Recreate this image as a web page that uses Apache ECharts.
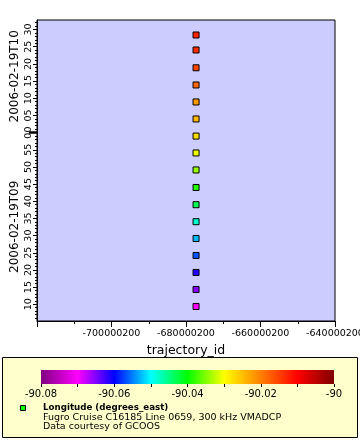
<!DOCTYPE html>
<html><head><meta charset="utf-8">
<script src="https://cdn.jsdelivr.net/npm/echarts@6/dist/echarts.min.js"></script>
<style>html,body{margin:0;padding:0;background:#fff}#c{width:360px;height:440px}</style>
</head><body><div id="c"></div>
<script>
// ---- data ----
const trajectoryId = -677300200;
const times = [
  '2006-02-19T09:09:22Z','2006-02-19T09:14:19Z','2006-02-19T09:19:16Z','2006-02-19T09:24:13Z',
  '2006-02-19T09:29:10Z','2006-02-19T09:34:03Z','2006-02-19T09:39:00Z','2006-02-19T09:44:01Z',
  '2006-02-19T09:49:07Z','2006-02-19T09:54:04Z','2006-02-19T09:58:59Z','2006-02-19T10:03:58Z',
  '2006-02-19T10:08:55Z','2006-02-19T10:13:52Z','2006-02-19T10:18:52Z','2006-02-19T10:24:03Z',
  '2006-02-19T10:28:25Z'
];
const longitudes = [
  -90.0700, -90.0653, -90.0613, -90.0567, -90.0527, -90.0480, -90.0433, -90.0387,
  -90.0340, -90.0307, -90.0273, -90.0246, -90.0220, -90.0180, -90.0153, -90.0132, -90.0128
];
const xRange = [-720000200, -640000200];
const xStep = 20000000;
const timeRange = ['2006-02-19T09:05:08Z', '2006-02-19T10:32:47Z'];
const colorRange = [-90.08, -90];
const colorStep = 0.01;
const palette = ['#800080','#ff00ff','#0000ff','#00ffff','#00ff00','#ffff00','#ff8000','#ff0000','#800000'];
const xName = 'trajectory_id';
const legendTitle = 'Longitude (degrees_east)';
const legendLines = ['Fugro Cruise C16185 Line 0659, 300 kHz VMADCP', 'Data courtesy of GCOOS'];

// ---- derived ----
const FONT = '"DejaVu Sans", sans-serif';
const yMin = Date.parse(timeRange[0]), yMax = Date.parse(timeRange[1]);
const MIN = 60000, FIVE = 5 * MIN, HOUR = 60 * MIN;
const fiveMin = [], oneMin = [], hourBounds = [];
for (let t = Math.ceil(yMin / FIVE) * FIVE; t <= yMax; t += FIVE) fiveMin.push(t);
for (let t = Math.ceil(yMin / MIN) * MIN; t <= yMax; t += MIN) oneMin.push(t);
for (let t = Math.ceil(yMin / HOUR) * HOUR; t <= yMax; t += HOUR) hourBounds.push(t);
const segEdges = [yMin].concat(hourBounds, [yMax]);
const segCenters = [];
for (let i = 0; i < segEdges.length - 1; i++) segCenters.push((segEdges[i] + segEdges[i + 1]) / 2);
const pad2 = n => (n < 10 ? '0' : '') + n;

const chart = echarts.init(document.getElementById('c'), null, {renderer: 'canvas'});
chart.setOption({
  animation: false,
  backgroundColor: '#ffffff',
  textStyle: {fontFamily: FONT},
  grid: [
    {left: 37, top: 20, width: 298, height: 301, show: true, backgroundColor: '#ccccff',
     borderColor: '#000', borderWidth: 1, containLabel: false, outerBoundsMode: 'none'},
    {left: 41, top: 370, width: 293, height: 14, show: false, containLabel: false, outerBoundsMode: 'none'}
  ],
  xAxis: [
    {type: 'value', gridIndex: 0, min: xRange[0], max: xRange[1], interval: xStep,
     name: xName, nameLocation: 'middle', nameGap: 20,
     nameTextStyle: {fontSize: 12.5, color: '#000', fontFamily: FONT},
     axisLine: {show: true, lineStyle: {color: '#000', width: 1}},
     axisTick: {show: true, length: 6, lineStyle: {color: '#000'}},
     minorTick: {show: true, splitNumber: 2, length: 3, lineStyle: {color: '#000'}},
     axisLabel: {showMinLabel: false, margin: 8, fontSize: 9.5, color: '#000', fontFamily: FONT,
                 formatter: v => String(Math.round(v))},
     splitLine: {show: false}, minorSplitLine: {show: false}},
    {type: 'value', gridIndex: 1, min: colorRange[0], max: colorRange[1], interval: colorStep,
     axisLine: {show: false},
     axisTick: {show: true, length: 3, lineStyle: {color: '#000'}},
     axisLabel: {margin: 5, fontSize: 10, color: '#000', fontFamily: FONT,
                 formatter: v => (Math.round(v * 100) % 2 === 0 ? String(+v.toFixed(2)) : '')},
     splitLine: {show: false}}
  ],
  yAxis: [
    {type: 'value', gridIndex: 0, min: yMin, max: yMax, position: 'left',
     axisLine: {show: true, lineStyle: {color: '#000', width: 1}},
     axisTick: {show: true, customValues: fiveMin, length: 4, lineStyle: {color: '#000'}},
     axisLabel: {customValues: fiveMin, rotate: 90, margin: 3, fontSize: 9.5, color: '#000', fontFamily: FONT,
                 formatter: v => pad2(new Date(v).getUTCMinutes())},
     splitLine: {show: false}},
    {type: 'value', gridIndex: 0, min: yMin, max: yMax, position: 'left',
     axisLine: {show: false},
     axisTick: {show: true, customValues: oneMin, length: 2, lineStyle: {color: '#000'}},
     axisLabel: {show: false}, splitLine: {show: false}},
    {type: 'value', gridIndex: 0, min: yMin, max: yMax, position: 'left',
     axisLine: {show: false},
     axisTick: {show: true, customValues: hourBounds, length: 8, lineStyle: {color: '#000', width: 2.5}},
     axisLabel: {customValues: segCenters, rotate: 90, margin: 16, fontSize: 12, color: '#000', fontFamily: FONT,
                 formatter: v => new Date(v).toISOString().slice(0, 13)},
     splitLine: {show: false}},
    {type: 'value', gridIndex: 1, min: 0, max: 1, show: false}
  ],
  visualMap: {type: 'continuous', show: false, seriesIndex: 0, dimension: 2,
              min: colorRange[0], max: colorRange[1], inRange: {color: palette}},
  series: [
    {type: 'scatter', xAxisIndex: 0, yAxisIndex: 0, symbol: 'rect', symbolSize: 6, z: 5,
     data: times.map((t, i) => [trajectoryId, Date.parse(t), longitudes[i]]),
     itemStyle: {borderColor: '#000', borderWidth: 1, opacity: 1}},
    {type: 'custom', xAxisIndex: 1, yAxisIndex: 3, silent: true, z: 3,
     data: [[colorRange[0], colorRange[1]]],
     renderItem: (params, api) => {
       const p0 = api.coord([api.value(0), 1]);
       const p1 = api.coord([api.value(1), 0]);
       return {type: 'rect', shape: {x: p0[0], y: p0[1], width: p1[0] - p0[0], height: p1[1] - p0[1]},
               style: {fill: new echarts.graphic.LinearGradient(0, 0, 1, 0,
                 palette.map((c, i) => ({offset: i / (palette.length - 1), color: c})))}};
     }}
  ],
  graphic: [
    {type: 'rect', z: -10, silent: true, shape: {x: 2.5, y: 357.5, width: 355, height: 80},
     style: {fill: '#ffffcc', stroke: '#000', lineWidth: 1}},
    {type: 'rect', z: 10, silent: true, shape: {x: 20.5, y: 405.5, width: 5, height: 5},
     style: {fill: '#00ff00', stroke: '#000', lineWidth: 1}},
    {type: 'text', z: 10, silent: true, x: 43, y: 408,
     style: {text: legendTitle, font: 'bold 8.7px ' + FONT, fill: '#000', verticalAlign: 'middle'}},
    {type: 'text', z: 10, silent: true, x: 43, y: 417.5,
     style: {text: legendLines[0], font: '9.5px ' + FONT, fill: '#000', verticalAlign: 'middle'}},
    {type: 'text', z: 10, silent: true, x: 43, y: 426.5,
     style: {text: legendLines[1], font: '9.5px ' + FONT, fill: '#000', verticalAlign: 'middle'}}
  ]
});
</script></body></html>
